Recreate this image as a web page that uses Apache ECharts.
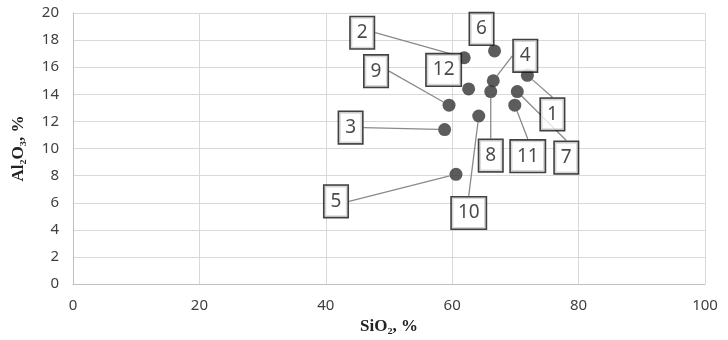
<!DOCTYPE html>
<html>
<head>
<meta charset="utf-8">
<script src="https://cdn.jsdelivr.net/npm/echarts@6/dist/echarts.min.js"></script>
<style>html,body{margin:0;padding:0;background:#fff;}</style>
</head>
<body>
<div id="main" style="width:728px;height:340px;"></div>
<script type="text/javascript">
    // 样品编号、SiO2 与 Al2O3 含量（%）
    var sampleNo = ['1', '2', '3', '4', '5', '6', '7', '8', '9', '10', '11', '12'];
    var sio2 = [71.9, 61.9, 58.8, 66.5, 60.6, 66.7, 70.3, 66.1, 59.5, 64.2, 69.9, 62.6];
    var al2o3 = [15.4, 16.7, 11.4, 15.0, 8.1, 17.2, 14.2, 14.2, 13.2, 12.4, 13.2, 14.4];
    var xTicks = [0, 20, 40, 60, 80, 100];
    var yTicks = [0, 2, 4, 6, 8, 10, 12, 14, 16, 18, 20];

    // 标签相对于点的像素偏移
    var labelOffset = [
        [25, 39], [-102, -25], [-94, -2], [32, -25], [-120, 27], [-13, -22],
        [49, 66], [0, 64], [-73, -34], [-10, 97], [13, 51], [-25, -19]
    ];
    // 标签紧贴点，不画引线
    var noLeader = ['6', '12'];

    var points = sio2.map(function (x, i) {
        var item = { name: sampleNo[i], value: [x, al2o3[i]] };
        if (noLeader.indexOf(sampleNo[i]) >= 0) {
            item.labelLine = { show: false };
        }
        return item;
    });

    var myChart = echarts.init(document.getElementById('main'));
    var option = {
        animation: false,
        grid: { left: 73, right: 23, top: 13, bottom: 54 },
        xAxis: {
            type: 'value',
            min: xTicks[0], max: xTicks[xTicks.length - 1], interval: 20,
            name: 'SiO₂, %',
            nameLocation: 'middle',
            nameGap: 31,
            nameTextStyle: { fontFamily: 'Liberation Serif', fontWeight: 'bold', fontSize: 17, color: '#222' },
            axisLine: { show: true, lineStyle: { color: '#bfbfbf' } },
            axisTick: { show: false },
            axisLabel: { margin: 14, fontFamily: 'Noto Sans', fontSize: 15, color: '#404040' },
            splitLine: { show: true, lineStyle: { color: '#d9d9d9' } }
        },
        yAxis: {
            type: 'value',
            min: yTicks[0], max: yTicks[yTicks.length - 1], interval: 2,
            name: 'Al₂O₃, %',
            nameLocation: 'middle',
            nameGap: 46,
            nameTextStyle: { fontFamily: 'Liberation Serif', fontWeight: 'bold', fontSize: 17, color: '#222' },
            axisLine: { show: true, lineStyle: { color: '#bfbfbf' } },
            axisTick: { show: false },
            axisLabel: { margin: 14, fontFamily: 'Noto Sans', fontSize: 15, color: '#404040' },
            splitLine: { show: true, lineStyle: { color: '#d9d9d9' } }
        },
        series: [{
            type: 'scatter',
            data: points,
            symbolSize: 13,
            itemStyle: { color: '#333' },
            label: {
                show: true,
                position: 'inside',
                formatter: '{b}',
                fontFamily: 'Noto Sans',
                fontSize: 19,
                lineHeight: 22,
                color: '#1a1a1a',
                backgroundColor: '#fff',
                borderColor: '#111',
                borderWidth: 1.6,
                padding: [5, 6, 4, 6]
            },
            labelLine: {
                show: true,
                lineStyle: { color: '#8a8a8a', width: 1.3 }
            },
            labelLayout: function (params) {
                var o = labelOffset[params.dataIndex];
                return { dx: o[0], dy: o[1], hideOverlap: false };
            }
        }]
    };
    myChart.setOption(option);
</script>
</body>
</html>
